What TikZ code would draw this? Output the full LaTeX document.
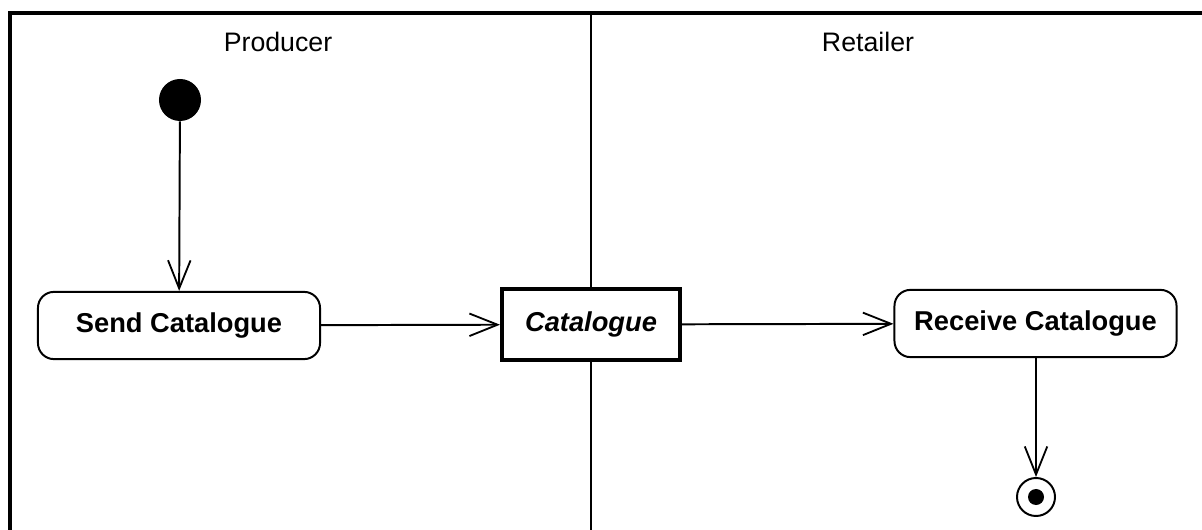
\documentclass[tikz,border=0pt]{standalone}
\usepackage{fontspec}
\setmainfont{Liberation Sans}
\usetikzlibrary{arrows.meta,positioning,backgrounds}
\tikzset{
  >={Straight Barb[length=20pt,width=16pt,line width=1.3pt]},
  activity/.style={draw,line width=1.4pt,rounded corners=4mm,fill=white,
    minimum width=70.5mm,minimum height=16.8mm,align=center,
    font=\fontsize{19.4}{23}\selectfont\bfseries},
  objnode/.style={draw,line width=2.8pt,fill=white,
    minimum width=44.5mm,minimum height=17.8mm,align=center,
    font=\fontsize{19.4}{23}\selectfont\bfseries\itshape},
  startdot/.style={circle,fill=black,minimum size=10.5mm,inner sep=0pt},
  enddot/.style={circle,draw,line width=1.4pt,fill=white,minimum size=9.5mm,inner sep=0pt,
    path picture={\fill[black] (path picture bounding box.center) circle (2mm);}},
  flow/.style={->,line width=1.4pt},
  lane/.style={line width=2.8pt},
  lanetitle/.style={font=\fontsize{19}{23}\selectfont},
}
\begin{document}
\begin{tikzpicture}[x=0.025cm,y=-0.025cm]
  \useasboundingbox (0,0) rectangle (1202,530);
  % swimlanes
  \coordinate (topL) at (8,13);
  \coordinate (topR) at (1202,13);
  \coordinate (leftB) at (10,530);
  \coordinate (midT) at (591,13);
  \coordinate (midB) at (591,530);
  \draw[lane] (topL) -- (topR);
  \draw[lane] (10,13) -- (leftB);
  \draw[line width=1.6pt] (midT) -- (midB);
  \node[lanetitle] (producer) at (278,42) {Producer};
  \node[lanetitle] (retailer) at (868,42) {Retailer};
  % activities
  \node[startdot] (start) at (180,100) {};
  \node[activity] (send) at (179,325.5) {Send Catalogue};
  \node[objnode] (cat) at (591,324.5) {Catalogue};
  \node[activity] (recv) at (1035.5,323.5) {Receive Catalogue};
  \node[enddot] (end) at (1036,497) {};
  % flows
  \draw[flow] (start) -- (send);
  \draw[flow] (send) -- (cat);
  \draw[flow] (cat) -- (recv);
  \draw[flow] (recv.south -| end) -- (end);
\end{tikzpicture}
\end{document}
